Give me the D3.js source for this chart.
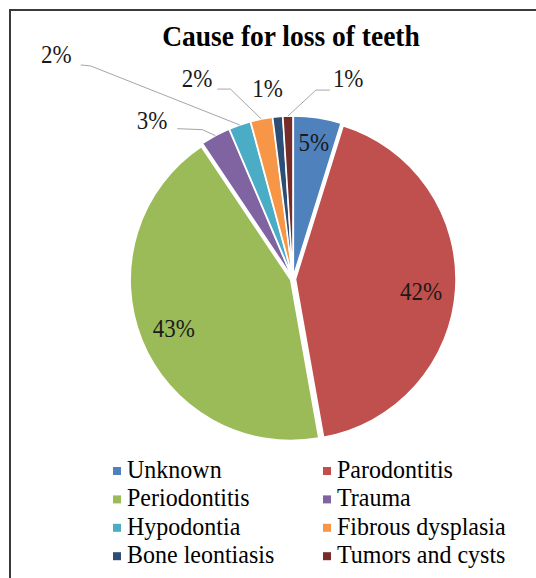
<!DOCTYPE html>
<html><head><meta charset="utf-8">
<script src="https://cdn.jsdelivr.net/npm/d3@7"></script>
<style>html,body{margin:0;padding:0;background:#fff;}svg{display:block;} text{font-family:"Liberation Serif","Times New Roman",Times,serif;}</style>
</head><body>
<svg id="chart" width="536" height="578"></svg>
<script>
// ---- data ----
const categories = ["Unknown","Parodontitis","Periodontitis","Trauma","Hypodontia","Fibrous dysplasia","Bone leontiasis","Tumors and cysts"];
const values = [4.8, 42.4, 43.4, 3.0, 2.2, 2.2, 1.0, 1.0];
const colors = ["#4F81BD","#C0504D","#9BBB59","#8064A2","#4BACC6","#F79646","#2C4D75","#772C2A"];
const title = "Cause for loss of teeth";

// ---- layout ----
const W = 536, H = 578;
const cx = 293, cy = 279, R = 160.5, explode = 2.5;
const SY = 1.08; // vertical text stretch seen in the reference

const svg = d3.select("#chart");
svg.append("rect").attr("x",0).attr("y",0).attr("width",W).attr("height",H).attr("fill","#fff");
svg.append("rect").attr("x",10).attr("y",10).attr("width",W+20).attr("height",H+20)
  .attr("fill","none").attr("stroke","#3a3a3a").attr("stroke-width",2);

function stretchedText(parent, x, y){
  return parent.append("text").attr("transform",`translate(${x},${y}) scale(1,${SY})`);
}

stretchedText(svg, 291, 46).attr("text-anchor","middle")
  .attr("font-weight","bold").attr("font-size",27.5).attr("fill","#000")
  .text(title);

const data = categories.map((c,i)=>({name:c, value:values[i], color:colors[i]}));
const total = d3.sum(values);
const pie = d3.pie().value(d=>d.value).sort(null);
const arcs = pie(data);
const arc = d3.arc().innerRadius(0).outerRadius(R);
const edgeArc = d3.arc().innerRadius(R+explode).outerRadius(R+explode);

const g = svg.append("g").attr("transform",`translate(${cx},${cy})`);
function offset(d){
  const a = (d.startAngle + d.endAngle)/2;
  return [explode*Math.sin(a), -explode*Math.cos(a)];
}
g.selectAll("path.slice").data(arcs).join("path").attr("class","slice")
  .attr("d",arc).attr("fill",d=>d.data.color)
  .attr("stroke","#fff").attr("stroke-width",1.5)
  .attr("transform",d=>{const o=offset(d);return `translate(${o[0]},${o[1]})`;});

const pct = d=>Math.round(d.value/total*100)+"%";

// inside labels: radial distance fraction of R and baseline shift
const insideLabels = {"Unknown":{r:0.86,dy:8},"Parodontitis":{r:0.80,dy:13},"Periodontitis":{r:0.80,dy:10}};
arcs.forEach(d=>{
  const L = insideLabels[d.data.name]; if(!L) return;
  const a=(d.startAngle+d.endAngle)/2, r=R*L.r;
  stretchedText(g, r*Math.sin(a), -r*Math.cos(a)+L.dy)
    .attr("text-anchor","middle").attr("font-size",23).attr("fill","#1a1a1a")
    .text(pct(d.data));
});

// outside labels with leader lines: offsets from the slice edge anchor
const outside = {
  "Trauma":           {pts:[[-13,-6],[-38,-7]], tx:-10, ty:0, anchor:"end"},
  "Hypodontia":       {pts:[[-149,-59],[-159,-60]], tx:-9, ty:-2, anchor:"end"},
  "Fibrous dysplasia":{pts:[[-31,-30],[-44,-30]], tx:-5, ty:-2, anchor:"end"},
  "Bone leontiasis":  {pts:[], tx:-10, ty:-20, anchor:"middle"},
  "Tumors and cysts": {pts:[[28,-26],[42,-26]], tx:3, ty:-3, anchor:"start"}
};
arcs.forEach(d=>{
  const L = outside[d.data.name]; if(!L) return;
  const p = edgeArc.centroid(d);
  const pts = [p].concat(L.pts.map(q=>[p[0]+q[0],p[1]+q[1]]));
  if(pts.length>1){
    g.append("path").attr("d",d3.line()(pts)).attr("fill","none")
      .attr("stroke","#a6a6a6").attr("stroke-width",1);
  }
  const last = pts[pts.length-1];
  stretchedText(g, last[0]+L.tx, last[1]+L.ty)
    .attr("text-anchor",L.anchor).attr("font-size",23).attr("fill","#1a1a1a")
    .text(pct(d.data));
});

// legend
const legX = [113, 323], legY0 = 478, legDy = 28.4;
const leg = svg.append("g");
data.forEach((d,i)=>{
  const col = i%2, row = Math.floor(i/2);
  const x = legX[col], y = legY0 + row*legDy;
  leg.append("rect").attr("x",x).attr("y",y-11).attr("width",8).attr("height",8).attr("fill",d.color);
  stretchedText(leg, x+14, y).attr("font-size",24)
    .attr("fill","#000").text(d.name);
});
</script>
</body></html>
